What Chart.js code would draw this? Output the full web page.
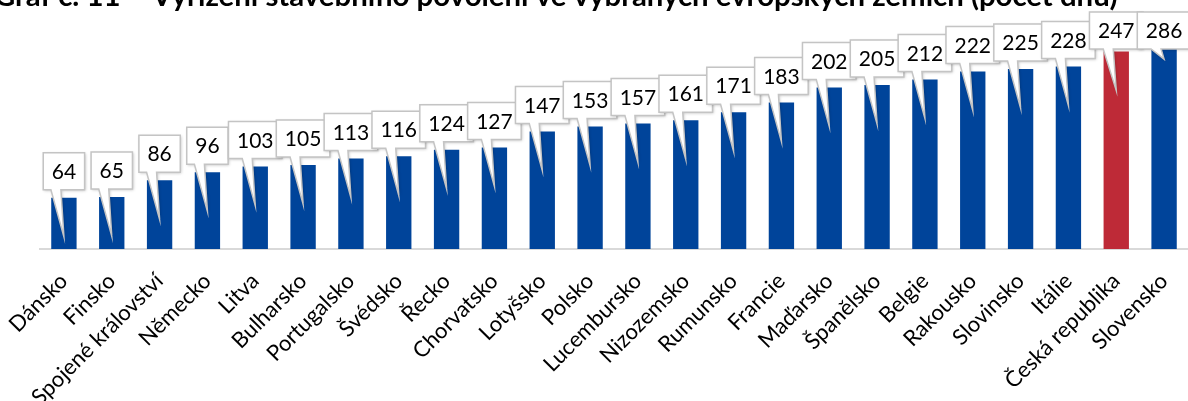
<!DOCTYPE html>
<html lang="cs">
<head>
<meta charset="utf-8">
<title>Vyřízení stavebního povolení</title>
<script src="https://cdn.jsdelivr.net/npm/chart.js@4"></script>
<style>
  html, body { margin: 0; padding: 0; background: #fff; }
  #graf-box { width: 1188px; height: 401px; position: relative; overflow: hidden; }
</style>
</head>
<body>
<div id="graf-box"><canvas id="graf"></canvas></div>
<script>
// Data grafu
const zeme = ["Dánsko","Finsko","Spojené království","Německo","Litva","Bulharsko","Portugalsko","Švédsko","Řecko","Chorvatsko","Lotyšsko","Polsko","Lucembursko","Nizozemsko","Rumunsko","Francie","Maďarsko","Španělsko","Belgie","Rakousko","Slovinsko","Itálie","Česká republika","Slovensko"];
const pocetDnu = [64,65,86,96,103,105,113,116,124,127,147,153,157,161,171,183,202,205,212,222,225,228,247,286];
const zvyraznena = "Česká republika";
const nadpis = "Graf č. 11 – Vyřízení stavebního povolení ve vybraných evropských zemích (počet dnů)";

const modra = "#00449a";
const cervena = "#be2a37";
const barvy = zeme.map(z => z == zvyraznena ? cervena : modra);

// Nadpis nahoře (oříznutý okrajem)
const nadpisPlugin = {
  id: "nadpis",
  afterDraw(chart) {
    const ctx = chart.ctx;
    ctx.save();
    ctx.font = "bold 24px Lato";
    let sirka = ctx.measureText(nadpis).width;
    let fs = 24 * 1124 / sirka;
    ctx.font = "bold " + fs + "px Lato";
    ctx.fillStyle = "#000";
    ctx.textBaseline = "alphabetic";
    ctx.fillText(nadpis, -6, 6);
    ctx.restore();
  }
};

// Popisky s hodnotami - bublina se šipkou do sloupce
const bublinyPlugin = {
  id: "bubliny",
  afterDatasetsDraw(chart) {
    const ctx = chart.ctx;
    const meta = chart.getDatasetMeta(0);
    ctx.save();
    ctx.font = "21px Lato";
    meta.data.forEach((bar, i) => {
      const text = String(pocetDnu[i]);
      const w = ctx.measureText(text).width + 17;
      const h = 37;
      const cx = bar.x;
      let top = Math.max(bar.y - 8 - h, 12);
      let bottom = top + h;
      const spickaY = bar.y + 39;

      ctx.beginPath();
      ctx.moveTo(cx - w / 2, top);
      ctx.lineTo(cx + w / 2, top);
      ctx.lineTo(cx + w / 2, bottom);
      ctx.lineTo(cx - 3, bottom);
      ctx.lineTo(cx, spickaY);
      ctx.lineTo(cx - 13, bottom);
      ctx.lineTo(cx - w / 2, bottom);
      ctx.closePath();

      ctx.shadowColor = "rgba(0,0,0,0.25)";
      ctx.shadowBlur = 3;
      ctx.shadowOffsetX = 1;
      ctx.shadowOffsetY = 1;
      ctx.fillStyle = "#fff";
      ctx.fill();
      ctx.shadowColor = "transparent";
      ctx.lineWidth = 1.5;
      ctx.strokeStyle = "#c4c4c4";
      ctx.stroke();

      ctx.fillStyle = "#000";
      ctx.textAlign = "center";
      ctx.textBaseline = "middle";
      ctx.fillText(text, cx, top + h / 2 + 1);
    });
    ctx.restore();
  }
};

const ctx = document.getElementById("graf").getContext("2d");

new Chart(ctx, {
  type: "bar",
  data: {
    labels: zeme,
    datasets: [{
      data: pocetDnu,
      backgroundColor: barvy,
      categoryPercentage: 1,
      barPercentage: 0.53,
      clip: 0
    }]
  },
  options: {
    responsive: true,
    maintainAspectRatio: false,
    animation: false,
    layout: { padding: { left: 40, top: 49, right: 0, bottom: 0 } },
    plugins: {
      legend: { display: false },
      tooltip: { enabled: false }
    },
    scales: {
      x: {
        grid: { display: false },
        border: { display: true, color: "#d9d9d9", width: 2 },
        ticks: {
          color: "#000",
          font: { family: "Lato", size: 22 },
          minRotation: 45,
          maxRotation: 45,
          autoSkip: false,
          padding: 11
        },
        afterFit(scale) {
          scale.height = 152;
          scale.paddingLeft = 0;
          scale.paddingRight = 0;
        }
      },
      y: {
        display: false,
        min: 0,
        max: 250
      }
    }
  },
  plugins: [bublinyPlugin, nadpisPlugin]
});
</script>
</body>
</html>
